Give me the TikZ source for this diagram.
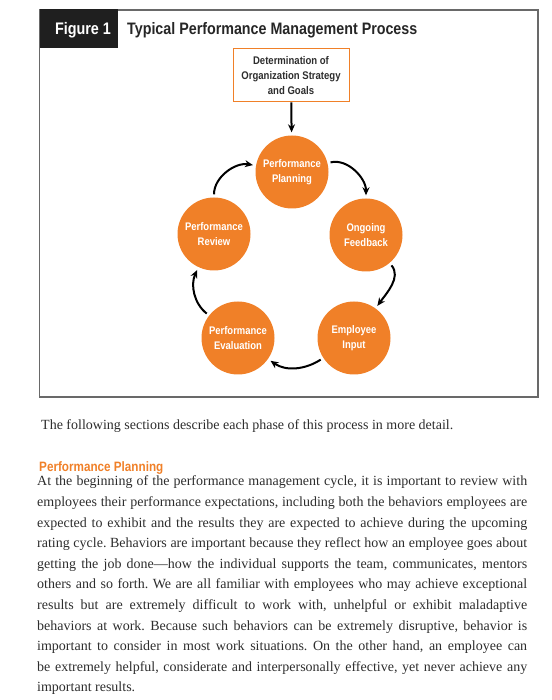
\documentclass[tikz,border=0pt]{standalone}
\usepackage{fontspec}
\setmainfont{Liberation Serif}
\newfontfamily\headfont[FakeStretch=0.86]{Liberation Sans}
\usetikzlibrary{arrows.meta}
\definecolor{phaseorange}{RGB}{240,128,40}
\definecolor{framegray}{RGB}{105,105,105}
\definecolor{inkgray}{RGB}{45,45,45}
\tikzset{
  phase/.style={circle, fill=phaseorange, minimum size=73pt, inner sep=0pt,
    text=white, align=center, font=\headfont\bfseries\fontsize{11}{15}\selectfont},
  goalbox/.style={draw=phaseorange, line width=1pt, minimum width=116pt, minimum height=53pt,
    inner sep=0pt, text=inkgray, align=center, font=\headfont\bfseries\fontsize{11.1}{15}\selectfont},
  cyc/.style={-{Stealth[length=8pt,width=7pt]}, line width=2pt, shorten <=3pt, shorten >=3pt},
}
\frenchspacing

\begin{document}
\begin{tikzpicture}[x=1pt,y=1pt]
  %%%%% START %%%%%
  \useasboundingbox (0,0) rectangle (551,700);

  \draw[line width=1.5pt, color=framegray] (39.5,690) rectangle (538,303);
  \fill[black!88] (39.5,690.75) rectangle (118,652);
  \node[text=white, font=\headfont\bfseries\fontsize{16.7}{18}\selectfont] (fig) at (83,670) {Figure 1};
  \node[anchor=west, inner sep=0pt, text=black!85, font=\headfont\bfseries\fontsize{16.6}{18}\selectfont] (title) at (127,670) {Typical Performance Management Process};

  \node[goalbox] (goals) at (291,624.5) {Determination of\\Organization Strategy\\and Goals};

  \node[phase] (plan) at (292,528) {Performance\\Planning};
  \node[phase] (review) at (214,466) {Performance\\Review};
  \node[phase] (feed) at (366,465) {Ongoing\\Feedback};
  \node[phase] (eval) at (238,362) {Performance\\Evaluation};
  \node[phase] (input) at (354,362) {Employee\\Input};

  \draw[cyc, shorten <=0pt] (goals) -- (plan);
  \draw[cyc] (plan) to[out=14,in=90] (feed);
  \draw[cyc] (feed) to[out=-50,in=54] (input);
  \draw[cyc] (input) to[out=213,in=-35] (eval);
  \draw[cyc] (eval) to[out=142,in=245] (review);
  \draw[cyc] (review) to[out=90,in=170] (plan);

  \node[anchor=base west, inner sep=0pt, text=inkgray, font=\fontsize{14}{20.6}\selectfont] (intro) at (41,270) {The following sections describe each phase of this process in more detail.};
  \node[anchor=base west, inner sep=0pt, text=phaseorange, font=\headfont\bfseries\fontsize{13.6}{15}\selectfont] (head) at (39,228) {Performance Planning};
  \node[anchor=base west, inner sep=0pt, text width=490pt, align=justify, text=inkgray, font=\fontsize{14}{20.6}\selectfont] (body) at (37,214) {At the beginning of the performance management cycle, it is important to review with\linebreak
employees their performance expectations, including both the behaviors employees are\linebreak
expected to exhibit and the results they are expected to achieve during the upcoming\linebreak
rating cycle. Behaviors are important because they reflect how an employee goes about\linebreak
getting the job done---how the individual supports the team, communicates, mentors\linebreak
others and so forth. We are all familiar with employees who may achieve exceptional\linebreak
results but are extremely difficult to work with, unhelpful or exhibit maladaptive\linebreak
behaviors at work. Because such behaviors can be extremely disruptive, behavior is\linebreak
important to consider in most work situations. On the other hand, an employee can\linebreak
be extremely helpful, considerate and interpersonally effective, yet never achieve any\linebreak
important results.};
  %%%%% END %%%%%
\end{tikzpicture}
\end{document}
